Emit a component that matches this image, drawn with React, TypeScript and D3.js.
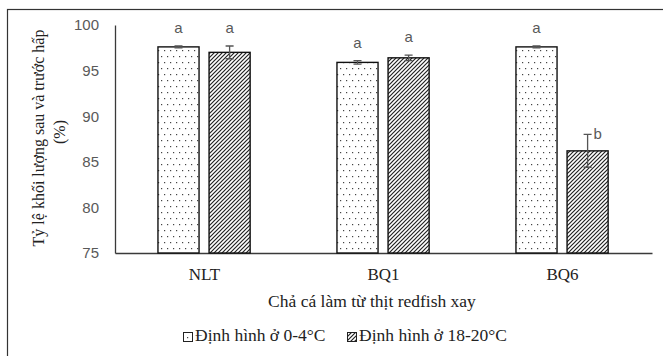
import React, { useEffect, useRef } from "react";
import * as d3 from "d3";

// chart values
const categories = ["NLT", "BQ1", "BQ6"];
const seriesNames = ["Định hình ở 0-4°C", "Định hình ở 18-20°C"];
const coldMeans = [97.6, 95.9, 97.6];
const coldErrors = [0.1, 0.2, 0.1];
const coldLetters = ["a", "a", "a"];
const warmMeans = [97.0, 96.4, 86.2];
const warmErrors = [0.7, 0.3, 1.8];
const warmLetters = ["a", "a", "b"];
const yTicks = [75, 80, 85, 90, 95, 100];
const yTitle = ["Tỷ lệ khối lượng sau và trước hấp", "(%)"];
const xTitle = "Chả cá làm từ thịt redfish xay";

const width = 663;
const height = 356;
const margin = { top: 25, right: 11, bottom: 103, left: 115 };

const App = () => {
  const ref = useRef<SVGSVGElement>(null);

  useEffect(() => {
    const svg = d3.select(ref.current);
    svg.selectAll("*").remove();

    //patterns for the two series
    const defs = svg.append("defs");
    const dots = defs
      .append("pattern")
      .attr("id", "dots")
      .attr("patternUnits", "userSpaceOnUse")
      .attr("width", 6)
      .attr("height", 12);
    dots.append("rect").attr("width", 6).attr("height", 12).attr("fill", "#fff");
    dots.append("rect").attr("x", 1).attr("y", 2).attr("width", 1.2).attr("height", 1.2).attr("fill", "#444");
    dots.append("rect").attr("x", 4).attr("y", 8).attr("width", 1.2).attr("height", 1.2).attr("fill", "#444");

    const hatch = defs
      .append("pattern")
      .attr("id", "hatch")
      .attr("patternUnits", "userSpaceOnUse")
      .attr("width", 4)
      .attr("height", 4);
    hatch.append("rect").attr("width", 4).attr("height", 4).attr("fill", "#fff");
    hatch
      .append("path")
      .attr("d", "M-1,1 l2,-2 M0,4 l4,-4 M3,5 l2,-2")
      .attr("stroke", "#222")
      .attr("stroke-width", 1.2);

    svg.append("rect").attr("width", width).attr("height", height).attr("fill", "#fff");
    //outer frame (right and bottom edges fall outside the picture)
    svg
      .append("rect")
      .attr("x", 7.5)
      .attr("y", 9.5)
      .attr("width", 700)
      .attr("height", 400)
      .attr("fill", "none")
      .attr("stroke", "#333")
      .attr("stroke-width", 1.2);

    const x0 = d3
      .scaleBand()
      .domain(categories)
      .range([margin.left, width - margin.right]);
    const bw = x0.bandwidth();
    const x1 = d3
      .scaleBand()
      .domain(seriesNames)
      .range([bw * 0.24, bw * 0.755])
      .paddingInner(0.196);

    const y = d3
      .scaleLinear()
      .domain([75, 100])
      .range([height - margin.bottom, margin.top]);

    const serif = "'Liberation Serif', 'Times New Roman', serif";
    const sans = "'Liberation Sans', Arial, sans-serif";

    //y axis labels
    const yAxis = svg
      .append("g")
      .attr("transform", `translate(${margin.left},0)`)
      .call(d3.axisLeft(y).tickValues(yTicks).tickSize(0).tickPadding(16));
    yAxis.select(".domain").attr("stroke", "#3a3a3a").attr("stroke-width", 1.3);
    yAxis
      .selectAll("text")
      .attr("fill", "#595959")
      .style("font-family", sans)
      .style("font-size", "15px");

    //x axis
    const xAxis = svg
      .append("g")
      .attr("transform", `translate(0,${height - margin.bottom})`)
      .call(d3.axisBottom(x0).tickSize(0).tickPadding(15));
    xAxis.select(".domain").attr("stroke", "#3a3a3a").attr("stroke-width", 1.3);
    xAxis
      .selectAll("text")
      .attr("fill", "#222")
      .style("font-family", serif)
      .style("font-size", "17px");

    const rows = categories.map((c, i) => ({
      cat: c,
      values: [
        { s: seriesNames[0], mean: coldMeans[i], err: coldErrors[i], letter: coldLetters[i], fill: "url(#dots)" },
        { s: seriesNames[1], mean: warmMeans[i], err: warmErrors[i], letter: warmLetters[i], fill: "url(#hatch)" },
      ],
    }));

    const groups = svg
      .selectAll(".grp")
      .data(rows)
      .enter()
      .append("g")
      .attr("class", "grp")
      .attr("transform", (d) => `translate(${x0(d.cat)},0)`);

    const bars = groups
      .selectAll(".bar")
      .data((d) => d.values)
      .enter()
      .append("g")
      .attr("class", "bar");

    bars
      .append("rect")
      .attr("x", (d) => x1(d.s)!)
      .attr("y", (d) => y(d.mean))
      .attr("width", x1.bandwidth())
      .attr("height", (d) => y(75) - y(d.mean))
      .attr("fill", (d) => d.fill)
      .attr("stroke", "#111")
      .attr("stroke-width", 1.4);

    //error bars
    const cx = (d) => x1(d.s)! + x1.bandwidth() / 2;
    bars
      .append("path")
      .attr("d", (d) => {
        const c = cx(d);
        const t = y(d.mean + d.err);
        const b = y(d.mean - d.err);
        return `M${c},${t}V${b}M${c - 4},${t}H${c + 4}M${c - 4},${b}H${c + 4}`;
      })
      .attr("stroke", "#555")
      .attr("stroke-width", 1.3)
      .attr("fill", "none");

    //significance letters
    bars
      .append("text")
      .attr("x", (d) => (d.letter === "b" ? cx(d) + 10 : cx(d)))
      .attr("y", (d) => (d.letter === "b" ? y(d.mean + d.err) + 5 : y(d.mean + d.err) - 13))
      .attr("text-anchor", "middle")
      .attr("fill", "#595959")
      .style("font-family", sans)
      .style("font-size", "15px")
      .text((d) => d.letter);

    //axis titles
    const yt = svg
      .append("text")
      .attr("transform", `translate(44,138) rotate(-90)`)
      .attr("text-anchor", "middle")
      .style("font-family", serif)
      .style("font-size", "16px")
      .attr("fill", "#222");
    yt.append("tspan").attr("x", 0).attr("dy", 0).text(yTitle[0]);
    yt.append("tspan").attr("x", 6).attr("dy", 21).text(yTitle[1]);

    svg
      .append("text")
      .attr("x", 372)
      .attr("y", 307)
      .attr("text-anchor", "middle")
      .style("font-family", serif)
      .style("font-size", "17.5px")
      .attr("fill", "#222")
      .text(xTitle);

    //legend
    const legendX = [183, 347];
    const fills = ["url(#dots)", "url(#hatch)"];
    const legend = svg
      .selectAll(".leg")
      .data(seriesNames)
      .enter()
      .append("g")
      .attr("class", "leg")
      .attr("transform", (d, i) => `translate(${legendX[i]},341)`);
    legend
      .append("rect")
      .attr("x", 0.5)
      .attr("y", -8.5)
      .attr("width", 9)
      .attr("height", 9)
      .attr("fill", (d, i) => fills[i])
      .attr("stroke", "#222")
      .attr("stroke-width", 1);
    legend
      .append("text")
      .attr("x", 12)
      .attr("y", 0)
      .style("font-family", serif)
      .style("font-size", "17.5px")
      .attr("fill", "#222")
      .text((d) => d);
  }, []);

  return (
    <svg
      ref={ref}
      width={width}
      height={height}
      style={{ position: "fixed", top: 0, left: 0 }}
    ></svg>
  );
};

export default App;
